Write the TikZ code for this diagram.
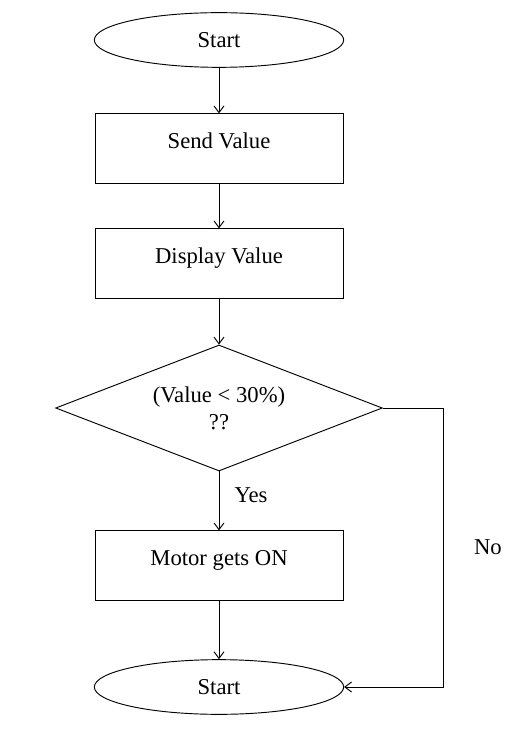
\documentclass[tikz,border=0pt]{standalone}
\usepackage{fontspec}
\setmainfont{Liberation Serif}
\usetikzlibrary{arrows.meta,shapes.geometric}

\begin{document}
\begin{tikzpicture}[x=0.75pt,y=-0.75pt]
\tikzset{
  chartfont/.style={font=\fontsize{17}{20}\selectfont},
  terminal/.style={ellipse,draw,line width=0.7pt,minimum width=187pt,minimum height=41pt,inner sep=0pt,chartfont},
  process/.style={rectangle,draw,line width=0.7pt,minimum width=186pt,minimum height=52pt,text height=12pt,text depth=12pt,chartfont},
  decision/.style={diamond,draw,line width=0.7pt,shape aspect=2.6,minimum width=245pt,minimum height=94.5pt,inner sep=0pt,align=center,chartfont},
  flow/.style={-{Straight Barb[length=5pt,width=7.5pt]},line width=0.7pt},
  lbl/.style={chartfont}
}
\useasboundingbox (0,0) rectangle (513,737);
\node[terminal] (n_start) at (219,40) {Start};
\node[process] (n_send) at (219,148.5) {Send Value};
\node[process] (n_show) at (219,263.5) {Display Value};
\node[decision] (n_check) at (219,408) {(Value < 30\%)\\??};
\node[process] (n_motor) at (219,565.5) {Motor gets ON};
\node[terminal] (n_stop) at (219,687) {Start};
\draw[flow] (n_start) -- (n_send);
\draw[flow] (n_send) -- (n_show);
\draw[flow] (n_show) -- (n_check);
\draw[flow] (n_check) -- node[lbl,right=8pt,yshift=4pt] {Yes} (n_motor);
\draw[flow] (n_motor) -- (n_stop);
\draw[flow] (n_check.east) -- ++(61,0) |- node[lbl,pos=0.25,right=19pt] {No} (n_stop.east);
\end{tikzpicture}
\end{document}
